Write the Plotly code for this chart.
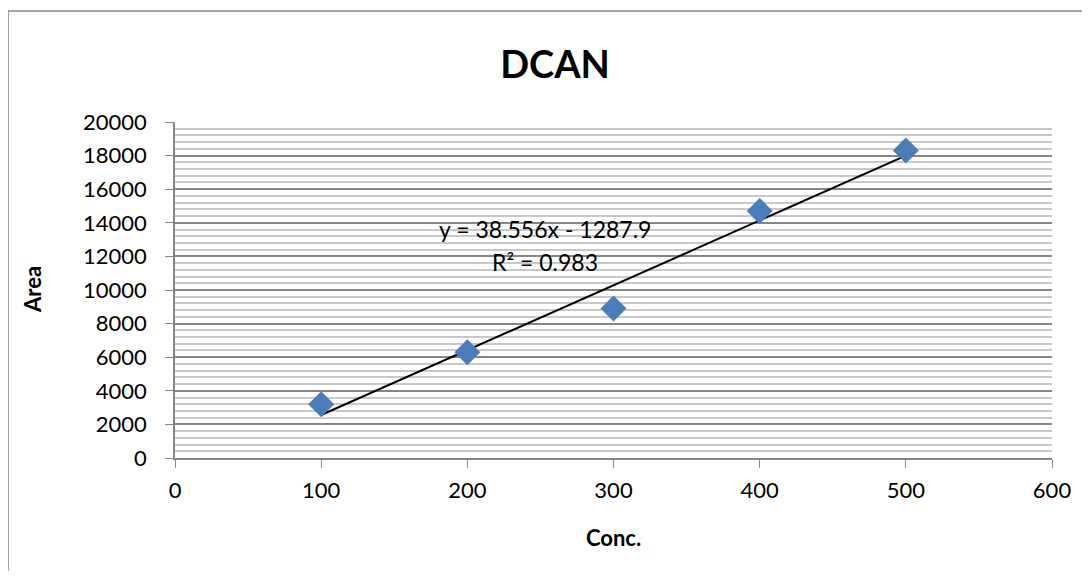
import numpy as np
import plotly.graph_objects as go

conc = [100, 200, 300, 400, 500]
area = [3200, 6300, 8900, 14700, 18300]
x_ticks = [0, 100, 200, 300, 400, 500, 600]
y_ticks = [0, 2000, 4000, 6000, 8000, 10000, 12000, 14000, 16000, 18000, 20000]
eq_text = "y = 38.556x - 1287.9"
r2_text = "R² = 0.983"

slope, intercept = np.polyfit(conc, area, 1)
fit_x = [min(conc), max(conc)]
fit_y = [slope * v + intercept for v in fit_x]

OFF = 8  # body margin of the page
W, H = 1074, 563
L, R, T, B = 175, 1052, 122, 458  # absolute plot-area edges in the screenshot
PW, PH = R - L, B - T


def px(ax):
    return (ax - L) / PW


def py(ay):
    return (B - ay) / PH


fig = go.Figure()
fig.add_trace(go.Scatter(x=fit_x, y=fit_y, mode="lines",
                         line=dict(color="black", width=2), showlegend=False))
fig.add_trace(go.Scatter(x=conc, y=area, mode="markers",
                         marker=dict(symbol="diamond", size=20, color="#4a7ebb",
                                     line=dict(width=0)), showlegend=False))

font = "Lato, 'Open Sans', Arial, sans-serif"
fig.update_layout(
    width=W, height=H,
    margin=dict(l=L - OFF, r=W - (R - OFF), t=T - OFF, b=H - (B - OFF)),
    paper_bgcolor="white", plot_bgcolor="white",
    font=dict(family=font, size=22, color="black"),
    title=dict(text="<b>DCAN</b>", x=(555 - OFF) / W, xanchor="center",
               y=1 - (65 - OFF) / H, yanchor="middle", font=dict(size=38, family=font)),
    xaxis=dict(range=[0, 600], tickvals=x_ticks, ticks="outside", ticklen=8,
               tickcolor="#868686", showgrid=False, zeroline=False,
               showline=True, linecolor="#868686", linewidth=1.5,
               tickformat="d", tickfont=dict(size=22), ticklabelstandoff=4),
    yaxis=dict(range=[0, 20000], tickvals=y_ticks, ticks="outside", ticklen=8,
               tickcolor="#868686", showgrid=True, gridcolor="#868686", gridwidth=1.5,
               zeroline=False, showline=True, linecolor="#868686", linewidth=1.5,
               minor=dict(dtick=400, showgrid=True, gridcolor="#c8c8c8", gridwidth=1.5),
               tickformat="d", tickfont=dict(size=22), ticklabelstandoff=14),
)

fig.add_annotation(x=px(545), y=py(229), xref="paper", yref="paper",
                   text=eq_text, showarrow=False, font=dict(size=23), xanchor="center", yanchor="middle")
fig.add_annotation(x=px(545), y=py(262), xref="paper", yref="paper",
                   text=r2_text, showarrow=False, font=dict(size=23), xanchor="center", yanchor="middle")
fig.add_annotation(x=px(32), y=py(290), xref="paper", yref="paper", textangle=-90,
                   text="<b>Area</b>", showarrow=False, font=dict(size=22), xanchor="center", yanchor="middle")
fig.add_annotation(x=px(613), y=py(537), xref="paper", yref="paper",
                   text="<b>Conc.</b>", showarrow=False, font=dict(size=22), xanchor="center", yanchor="middle")

fig.add_shape(type="rect", xref="paper", yref="paper",
              x0=px(8), x1=px(1110), y0=py(600), y1=py(11),
              line=dict(color="#868686", width=1.5), layer="below")

fig.write_html("out.html")
